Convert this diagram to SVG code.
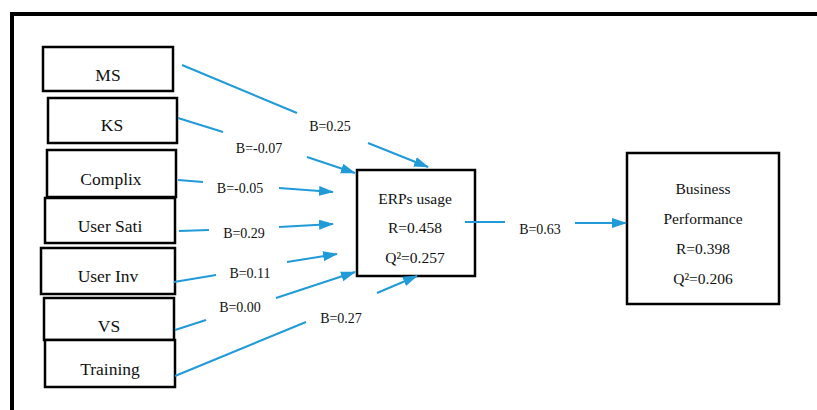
<svg xmlns="http://www.w3.org/2000/svg" width="817" height="410" viewBox="0 0 817 410">
<defs>
<style>
.box{fill:#fff;stroke:#000;stroke-width:2.5}
.big{fill:#fff;stroke:#000;stroke-width:2.5}
.t{font-family:"Liberation Serif","Times New Roman",serif;font-size:17.5px;fill:#111;text-anchor:middle}
.s{font-family:"Liberation Serif","Times New Roman",serif;font-size:14px;fill:#111;text-anchor:middle}
.m{font-family:"Liberation Serif","Times New Roman",serif;font-size:15.5px;fill:#111;text-anchor:middle}
.c{fill:none;stroke:#219ad8;stroke-width:2}
.a{fill:none;stroke:#219ad8;stroke-width:2;marker-end:url(#ah)}
</style>
<marker id="ah" markerUnits="userSpaceOnUse" markerWidth="16" markerHeight="12" refX="14" refY="5" orient="auto">
<path d="M0,0 L15,5 L0,10 z" fill="#219ad8"/>
</marker>
</defs>
<rect width="817" height="410" fill="#fff"/>
<path d="M12,410 V14 H817" fill="none" stroke="#000" stroke-width="4"/>

<g id="node-ms"><rect class="box" x="43" y="47" width="130" height="44"/><text class="t" x="108" y="81">MS</text></g>
<g id="node-ks"><rect class="box" x="48" y="98" width="129" height="45"/><text class="t" x="112" y="131">KS</text></g>
<g id="node-complix"><rect class="box" x="47" y="150" width="129" height="47"/><text class="t" x="111" y="185">Complix</text></g>
<g id="node-usersati"><rect class="box" x="45" y="198" width="130" height="45"/><text class="t" x="110" y="232">User Sati</text></g>
<g id="node-userinv"><rect class="box" x="41" y="248" width="134" height="46"/><text class="t" x="108" y="282">User Inv</text></g>
<g id="node-vs"><rect class="box" x="44" y="298" width="130" height="42"/><text class="t" x="109" y="332">VS</text></g>
<g id="node-training"><rect class="box" x="45" y="340" width="130" height="47"/><text class="t" x="110" y="375">Training</text></g>

<g id="node-erp"><rect class="big" x="357" y="170" width="118" height="106"/>
<text class="m" x="415" y="204">ERPs usage</text>
<text class="m" x="415" y="233">R=0.458</text>
<text class="m" x="415" y="263">Q²=0.257</text></g>

<g id="node-bp"><rect class="big" x="627" y="153" width="152" height="151"/>
<text class="m" x="703" y="194">Business</text>
<text class="m" x="703" y="224">Performance</text>
<text class="m" x="703" y="254">R=0.398</text>
<text class="m" x="703" y="284">Q²=0.206</text></g>

<g id="connectors">
<path class="c" d="M182,65 L297,113"/><path class="a" d="M368,143 L428,167"/>
<text class="s" x="330" y="131">B=0.25</text>
<path class="c" d="M178,118 L223,132"/><path class="a" d="M307,157 L355,173"/>
<text class="s" x="259" y="153">B=-0.07</text>
<path class="c" d="M178,180 L203,182"/><path class="a" d="M279,188 L333,192"/>
<text class="s" x="240" y="193">B=-0.05</text>
<path class="c" d="M179,231 L209,230"/><path class="a" d="M279,227 L333,224"/>
<text class="s" x="244" y="238">B=0.29</text>
<path class="c" d="M174,282 L216,275"/><path class="a" d="M287,262 L337,254"/>
<text class="s" x="250" y="278">B=0.11</text>
<path class="c" d="M175,330 L206,320"/><path class="a" d="M276,298 L355,272"/>
<text class="s" x="240" y="312">B=0.00</text>
<path class="c" d="M175,376 L306,322"/><path class="a" d="M377,293 L417,276"/>
<text class="s" x="341" y="323">B=0.27</text>
<path class="c" d="M465,222 L505,222"/><path class="a" d="M575,223 L626,223"/>
<text class="s" x="540" y="234">B=0.63</text>
</g>
</svg>
